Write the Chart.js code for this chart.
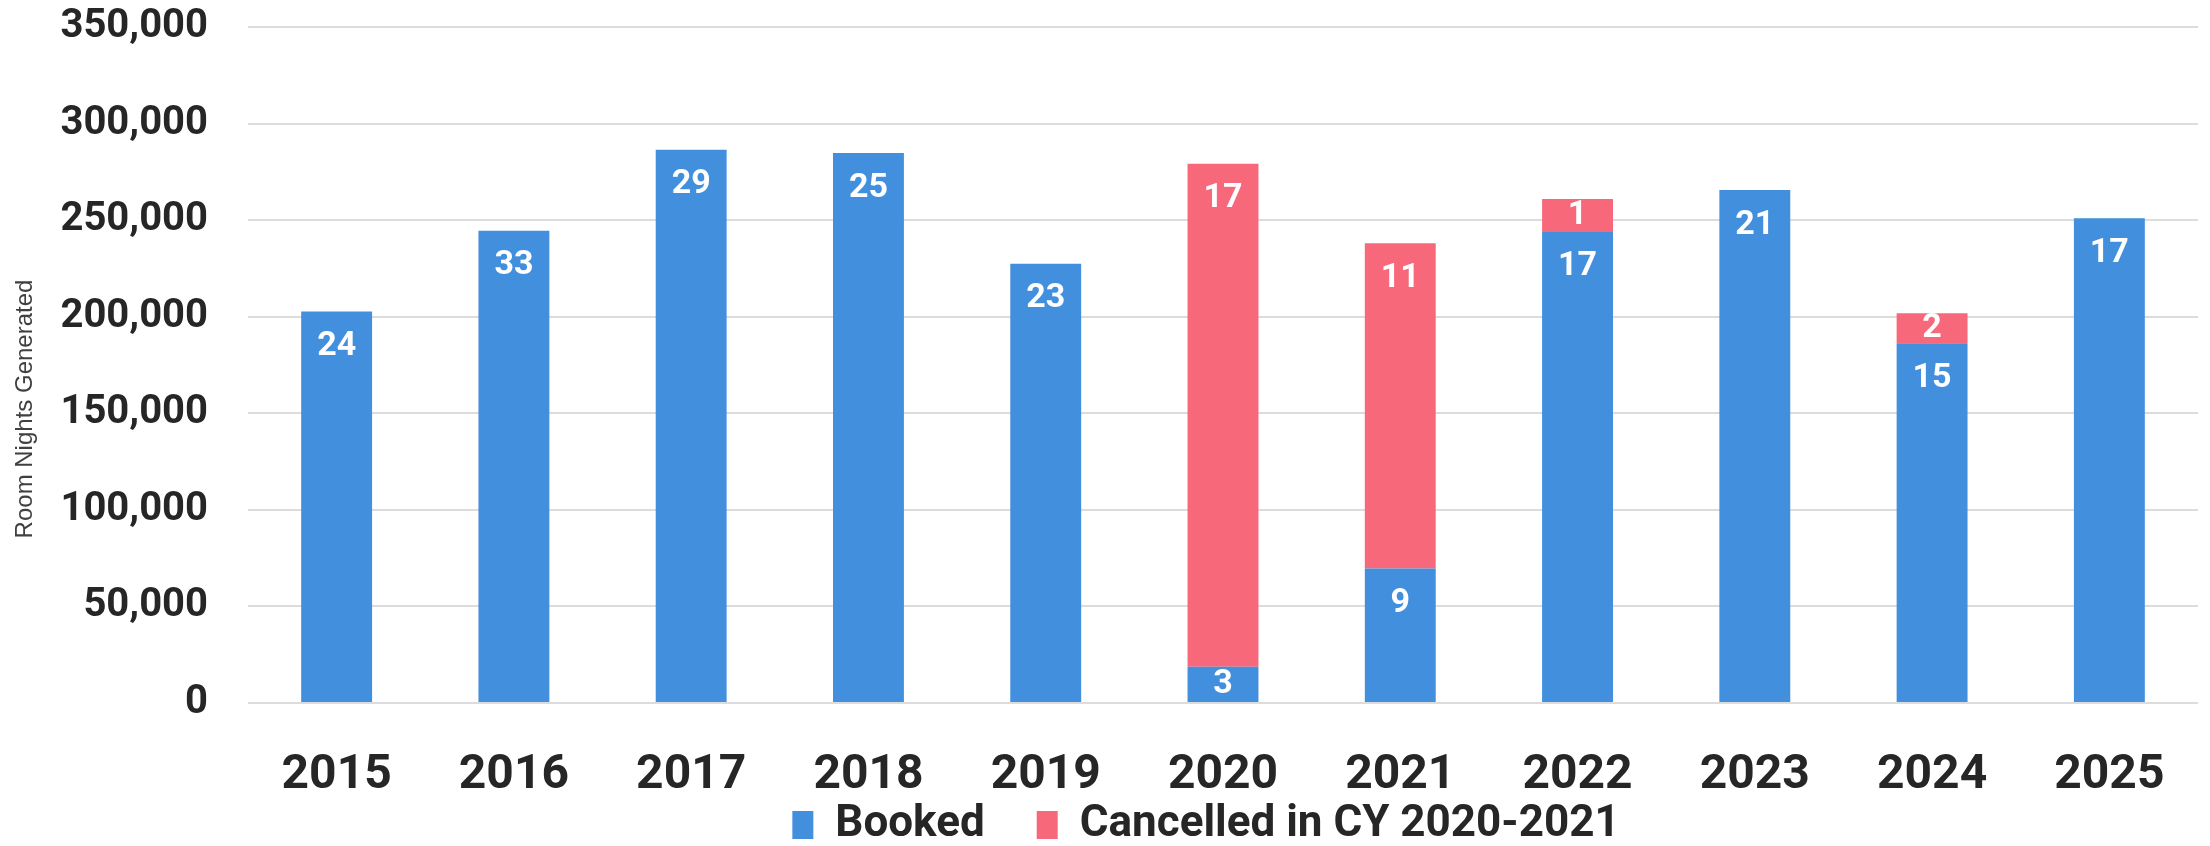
<!DOCTYPE html>
<html>
<head>
<meta charset="utf-8">
<script src="https://cdn.jsdelivr.net/npm/chart.js@4"></script>
<style>
  body { margin: 0; background: #fff; }
</style>
</head>
<body>
<canvas id="myChart" width="2210" height="846"></canvas>
<script>
// data
const years = ["2015", "2016", "2017", "2018", "2019", "2020", "2021", "2022", "2023", "2024", "2025"];
const booked = [202700, 244500, 286400, 284700, 227400, 18800, 69600, 243900, 265600, 186300, 251000];
const cancelled = [null, null, null, null, null, 260400, 168400, 17100, null, 15500, null];
const bookedCounts = [24, 33, 29, 25, 23, 3, 9, 17, 21, 15, 17];
const cancelledCounts = [null, null, null, null, null, 17, 11, 1, null, 2, null];
const yTicks = [0, 50000, 100000, 150000, 200000, 250000, 300000, 350000];

const BLUE = "#428FDE";
const PINK = "#F7687B";
const INK = "#262626";
const LEGEND_PAD = 52;

// white counts inside the bar segments
const countLabels = {
  id: "countLabels",
  afterDatasetsDraw(chart) {
    const ctx = chart.ctx;
    ctx.save();
    ctx.fillStyle = "#fff";
    ctx.font = "bold 34px Roboto";
    ctx.textAlign = "center";
    ctx.textBaseline = "middle";
    chart.data.datasets.forEach((ds, di) => {
      const meta = chart.getDatasetMeta(di);
      meta.data.forEach((bar, i) => {
        const n = ds.counts[i];
        if (n == null) return;
        const top = Math.min(bar.y, bar.base);
        const h = Math.abs(bar.base - bar.y);
        ctx.fillText(String(n), bar.x, top + Math.min(35, h / 2));
      });
    });
    ctx.restore();
  }
};

// y axis title, drawn a bit below centre like the original
const yTitle = {
  id: "yTitle",
  afterDraw(chart) {
    const ctx = chart.ctx;
    ctx.save();
    ctx.translate(25, 409);
    ctx.rotate(-Math.PI / 2);
    ctx.fillStyle = "#404040";
    ctx.font = "24px 'Liberation Sans'";
    ctx.textAlign = "center";
    ctx.textBaseline = "middle";
    ctx.fillText("Room Nights Generated", 0, 0);
    ctx.restore();
  }
};

// the legend sits tight under the year labels and a bit right of centre
const legendNudge = {
  id: "legendNudge",
  afterLayout(chart) {
    const lg = chart.legend;
    const h = lg.bottom - lg.top;
    lg.top = 825 - LEGEND_PAD - 22;
    lg.bottom = lg.top + h;
    lg.left += 107;
    lg.right += 107;
  }
};

new Chart(document.getElementById("myChart").getContext("2d"), {
  type: "bar",
  data: {
    labels: years,
    datasets: [
      { label: "Booked", data: booked, counts: bookedCounts, backgroundColor: BLUE,
        categoryPercentage: 1, barPercentage: 0.4 },
      { label: "Cancelled in CY 2020-2021", data: cancelled, counts: cancelledCounts, backgroundColor: PINK,
        categoryPercentage: 1, barPercentage: 0.4 }
    ]
  },
  options: {
    responsive: false,
    animation: false,
    devicePixelRatio: 1,
    layout: { padding: { top: 27, right: 12, left: 0, bottom: -53 } },
    plugins: {
      tooltip: { enabled: false },
      legend: {
        position: "bottom",
        labels: {
          color: INK,
          font: { family: "Roboto", size: 44, weight: "bold" },
          boxWidth: 21,
          boxHeight: 28,
          padding: LEGEND_PAD
        }
      }
    },
    scales: {
      x: {
        stacked: true,
        grid: { display: false },
        border: { display: false },
        ticks: { color: INK, font: { family: "Roboto", size: 48, weight: "bold" }, padding: 36 },
        afterFit: s => { s.height = 90; }
      },
      y: {
        stacked: true,
        min: 0,
        max: 350000,
        grid: { color: "#DCDCDC", lineWidth: 2, drawTicks: false },
        border: { display: false },
        afterBuildTicks: s => { s.ticks = yTicks.map(v => ({ value: v })); },
        ticks: {
          color: INK,
          font: { family: "Roboto", size: 40, weight: "bold" },
          padding: 40,
          callback: v => v.toLocaleString("en-US")
        },
        afterFit: s => {
          s.width = 248;
          s.paddingTop = 0;
          s.paddingBottom = 0;
        }
      }
    }
  },
  plugins: [countLabels, yTitle, legendNudge]
});
</script>
</body>
</html>
